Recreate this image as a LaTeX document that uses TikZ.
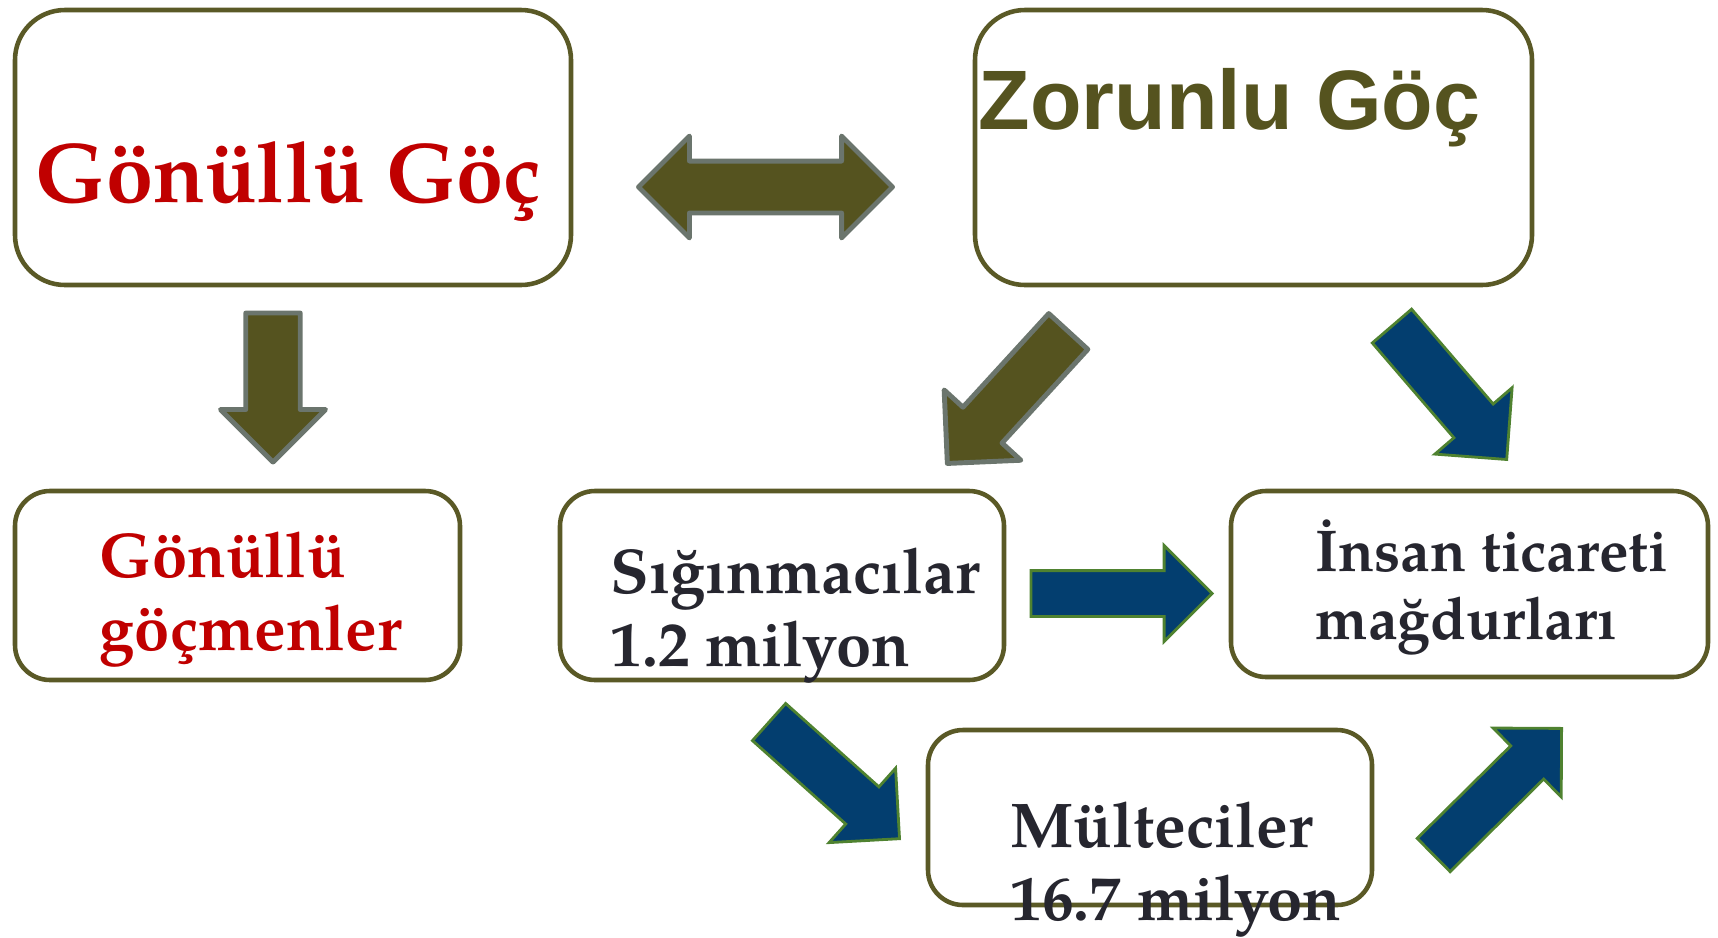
\documentclass[tikz,border=0pt]{standalone}
\usepackage{fontspec}
\usepackage{xcolor}
\usetikzlibrary{shapes.arrows}
\setmainfont{texgyrepagella}[Extension=.otf, UprightFont=*-regular, BoldFont=*-bold]
\newfontfamily\zorfont{Liberation Sans}

\definecolor{boxline}{HTML}{5A5926}
\definecolor{oliv}{HTML}{55531F}
\definecolor{olivedge}{HTML}{6B756D}
\definecolor{gonred}{HTML}{C00000}
\definecolor{navy}{HTML}{033E6F}
\definecolor{navyedge}{HTML}{4F8230}
\definecolor{ink}{HTML}{26262F}

\tikzset{
  roundbox/.style={draw=boxline, line width=1.3pt, fill=white, rounded corners=0.35cm, inner sep=0pt},
  bigbox/.style={roundbox, rounded corners=0.5cm, minimum width=5.56cm, minimum height=2.75cm},
  boxtext/.style={anchor=base west, align=left, inner sep=0pt, font=\fontsize{18}{20.5}\selectfont\bfseries},
  olivarrow/.style={single arrow, draw=olivedge, fill=oliv, line width=1.4pt, line join=round,
    single arrow tip angle=90, inner xsep=0pt, anchor=tip},
  navyarrow/.style={single arrow, draw=navyedge, fill=navy, line width=0.8pt,
    single arrow tip angle=90, inner xsep=0pt, anchor=tip},
}

\begin{document}
\begin{tikzpicture}
    \useasboundingbox (0,0) rectangle (17.18,9.37);

    % Boxes:
    \node [bigbox] (gonullu) at (2.93,7.895) {};
    \node [bigbox, minimum width=5.57cm] (zorunlu) at (12.535,7.895) {};
    \node [roundbox, minimum width=4.45cm, minimum height=1.89cm] (gmen) at (2.375,3.515) {};
    \node [roundbox, minimum width=4.44cm, minimum height=1.89cm] (sig) at (7.82,3.515) {};
    \node [roundbox, minimum width=4.77cm, minimum height=1.86cm] (insan) at (14.695,3.53) {};
    \node [roundbox, minimum width=4.44cm, minimum height=1.75cm] (multe) at (11.50,1.195) {};

    % Texts, placed at the baseline of their last line:
    \node [boxtext, text=gonred, font=\fontsize{24.1}{28}\selectfont\bfseries] (gonulluT) at (0.35,7.35) {Gönüllü Göç};
    \node [boxtext, text=oliv, font=\fontsize{24}{28}\selectfont\zorfont\bfseries] (zorunluT) at (9.78,8.08) {Zorunlu Göç};
    \node [boxtext, text=gonred] (gmenT) at (0.99,2.87) {Gönüllü\\göçmenler};
    \node [boxtext, text=ink] (sigT) at (6.10,2.71) {Sığınmacılar\\1.2 milyon};
    \node [boxtext, text=ink, font=\fontsize{16.8}{19.1}\selectfont\bfseries] (insanT) at (13.15,2.98) {İnsan ticareti\\mağdurları};
    \node [boxtext, text=ink] (multeT) at (10.10,0.17) {Mülteciler\\16.7 milyon};

    % Block arrows (olive):
    \node [double arrow, draw=olivedge, fill=oliv, line width=1.4pt, line join=round,
        double arrow tip angle=90, inner xsep=0pt, inner ysep=0.235cm,
        minimum height=2.54cm, minimum width=0.99cm] (both) at (7.655,7.50) {};
    \node [olivarrow, rotate=-90, inner ysep=0.245cm, minimum height=1.49cm, minimum width=1.05cm] (down) at (2.73,4.715) {};
    \node [olivarrow, rotate=227.5, inner ysep=0.235cm, minimum height=1.79cm, minimum width=1.04cm] (toSig) at (9.45,4.71) {};

    % Block arrows (navy):
    \node [navyarrow, inner ysep=0.215cm, minimum height=1.81cm, minimum width=0.92cm] (sigIns) at (12.14,3.435) {};
    \node [navyarrow, rotate=-49.3, inner ysep=0.245cm, minimum height=1.76cm, minimum width=1.01cm] (toIns) at (15.08,4.76) {};
    \node [navyarrow, rotate=-41.8, inner ysep=0.235cm, minimum height=1.75cm, minimum width=0.91cm] (sigMul) at (9.01,0.97) {};
    \node [navyarrow, rotate=44.7, inner ysep=0.22cm, minimum height=1.80cm, minimum width=0.90cm] (mulIns) at (15.63,2.10) {};
\end{tikzpicture}
\end{document}
